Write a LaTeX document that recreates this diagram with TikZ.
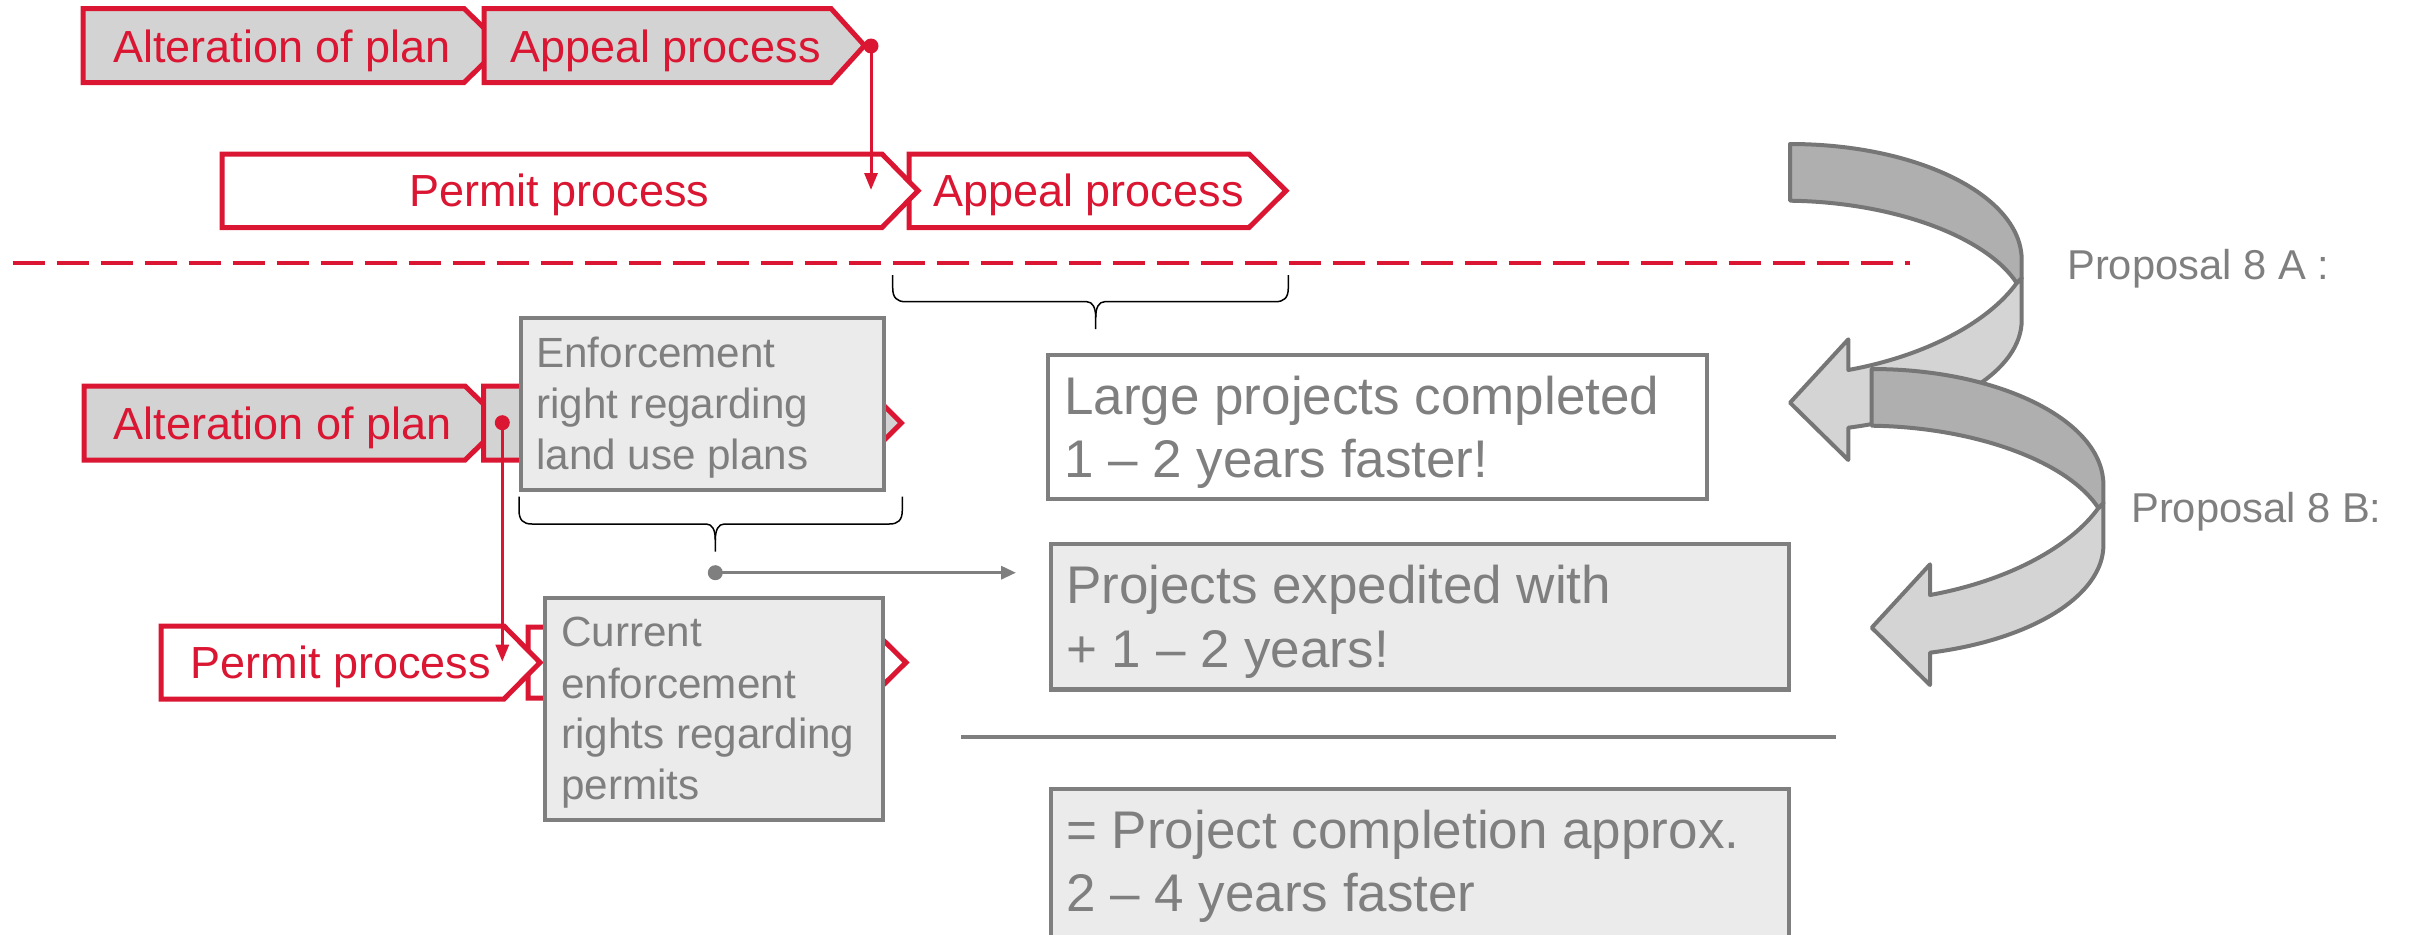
\documentclass[tikz,border=0pt]{standalone}
\usepackage{fontspec}
\setmainfont{Liberation Sans}
\usetikzlibrary{arrows.meta}
\definecolor{myred}{RGB}{218,22,50}
\definecolor{chevgray}{RGB}{211,211,211}
\definecolor{boxfill}{RGB}{235,235,235}
\definecolor{boxline}{RGB}{127,127,127}
\definecolor{gtext}{RGB}{127,127,127}
\definecolor{darkband}{RGB}{175,175,175}
\definecolor{lightband}{RGB}{212,212,212}
\definecolor{bandline}{RGB}{118,118,118}
\tikzset{
  chevline/.style={draw=myred,line width=5bp,line join=miter},
  gbox/.style={draw=boxline,line width=4.3bp,anchor=north west,inner sep=0pt,outer sep=0pt},
  rtxt/.style={text=myred,font=\fontsize{45bp}{54bp}\selectfont,anchor=base,inner sep=0pt},
  gtxt/.style={text=gtext,font=\fontsize{42.2bp}{51bp}\selectfont,anchor=base west,inner sep=0pt},
  btxt/.style={text=gtext,font=\fontsize{53bp}{63bp}\selectfont,anchor=base west,inner sep=0pt},
  ptxt/.style={text=gtext,font=\fontsize{41.7bp}{50bp}\selectfont,anchor=base west,inner sep=0pt},
  braceline/.style={draw=black,line width=1.5bp},
  redconn/.style={draw=myred,line width=3bp,-{Triangle[length=17bp,width=13bp]}},
  grayconn/.style={draw=boxline,line width=3.3bp,-{Triangle[length=15bp,width=13bp]}},
  darkpart/.style={fill=darkband,draw=bandline,line width=4bp,line join=round},
  lightpart/.style={fill=lightband,draw=bandline,line width=4bp,line join=round}
}
% fill, x0, x1, xpoint, ytop, ybottom
\newcommand\chevpath[6]{\draw[chevline,fill=#1] (#2,#5) -- (#3,#5) -- (#4,{(#5+#6)/2}) -- (#3,#6) -- (#2,#6) -- cycle;}
% L, R, top, horizontal y, tip x, tip end
\newcommand\bracepath[6]{%
  \draw[braceline] (#1,#3) -- (#1,{#4-14}) .. controls (#1,{#4-4}) and ({#1+4},#4) .. ({#1+13},#4)
     -- ({#5-9},#4) .. controls ({#5-3},#4) and (#5,{#4+6}) .. (#5,{#4+16}) -- (#5,#6);
  \draw[braceline] (#2,#3) -- (#2,{#4-14}) .. controls (#2,{#4-4}) and ({#2-4},#4) .. ({#2-13},#4)
     -- ({#5+9},#4) .. controls ({#5+3},#4) and (#5,{#4+6}) .. (#5,{#4+16});
}
\newcommand\bentarrow{%
  \draw[lightpart] (2021.7,278) -- (2021.7,320) .. controls (2021.7,370.5) and (1950.4,414.7) .. (1848.3,427.7)
     -- (1848.3,460) -- (1790,402.7) -- (1848.3,339.3) -- (1848.3,370)
     .. controls (1930,355) and (1990,320) .. (2016.7,283) -- cycle;
  \draw[darkpart] (1790,144) .. controls (1918,144) and (2021.7,195.9) .. (2021.7,260) -- (2021.7,278)
     -- (2016.7,283) .. controls (1985,235) and (1890,202) .. (1790,200.7) -- cycle;
}
\begin{document}
\begin{tikzpicture}[x=1bp,y=-1bp]
\useasboundingbox (0,0) rectangle (2412,934);
\clip (0,0) rectangle (2412,934);

% dashed separator
\draw[myred,line width=4bp,dash pattern=on 32bp off 12bp] (12.7,263) -- (1910,263);

% row 1
\chevpath{chevgray}{83}{464}{502}{8.5}{82.5}
\chevpath{chevgray}{484}{831}{864.5}{8.5}{82.5}
\node[rtxt] (alt1) at (282,62) {Alteration of plan};
\node[rtxt] (app1) at (665.5,62) {Appeal process};

% row 2
\chevpath{white}{909}{1249}{1286}{154}{227.5}
\chevpath{white}{222}{882}{918}{154}{227.5}
\node[rtxt] (per2) at (559.5,206.7) {Permit process};
\node[rtxt] (app2) at (1088.5,206.7) {Appeal process};

% red connector row 1
\coordinate (rdot1) at (871,46);
\coordinate (rtip1) at (871,190);
\draw[redconn] (rdot1) -- (rtip1);
\fill[myred] (rdot1) circle[radius=7.5bp];

% brace 1
\bracepath{892.7}{1288.3}{275}{301.7}{1095.7}{329}

% row 3
\chevpath{chevgray}{84}{465}{503}{386}{460}
\chevpath{chevgray}{483.7}{864.5}{901.3}{386}{460}
\node[rtxt] (alt3) at (282.5,439) {Alteration of plan};
\node[gbox,fill=boxfill,minimum width=362.7bp,minimum height=171.7bp] (enf) at (521,318) {};
\node[gtxt] (enf1) at (536,367) {Enforcement};
\node[gtxt] (enf2) at (536,418.3) {right regarding};
\node[gtxt] (enf3) at (536,469.5) {land use plans};

% row 4
\chevpath{white}{528}{870}{906}{627}{698}
\chevpath{white}{161}{504}{540}{626}{699}
\node[rtxt] (per3) at (341,678.6) {Permit process};
\node[gbox,fill=boxfill,minimum width=338.3bp,minimum height=222bp] (cur) at (544.7,598) {};
\node[gtxt] (cur1) at (561,646.7) {Current};
\node[gtxt] (cur2) at (561,698) {enforcement};
\node[gtxt] (cur3) at (561,748.5) {rights regarding};
\node[gtxt] (cur4) at (561,799) {permits};

% red connector row 3
\coordinate (rdot3) at (502.3,422.7);
\coordinate (rtip3) at (502.3,661.7);
\draw[redconn] (rdot3) -- (rtip3);
\fill[myred] (rdot3) circle[radius=7.5bp];

% brace 2 and gray connector
\bracepath{519}{902.3}{496.7}{524}{715.3}{551.7}
\coordinate (gdot) at (715.3,572.7);
\coordinate (gtip) at (1016,572.7);
\draw[grayconn] (gdot) -- (gtip);
\fill[boxline] (gdot) circle[radius=7.5bp];

% result boxes
\node[gbox,fill=white,minimum width=659bp,minimum height=144bp] (large) at (1048,355) {};
\node[btxt] (large1) at (1064,414) {Large projects completed};
\node[btxt] (large2) at (1064,477) {1 – 2 years faster!};
\node[gbox,fill=boxfill,minimum width=738bp,minimum height=145.5bp] (exped) at (1051,544) {};
\node[btxt] (exped1) at (1066,603) {Projects expedited with};
\node[btxt] (exped2) at (1066,667) {+ 1 – 2 years!};
\draw[boxline,line width=3.5bp] (961,737) -- (1836,737);
\node[gbox,fill=boxfill,minimum width=738bp,minimum height=200bp] (total) at (1051,788.7) {};
\node[btxt] (total1) at (1066,848.3) {= Project completion approx.};
\node[btxt] (total2) at (1066,911.7) {2 – 4 years faster};

% bent arrows
\bentarrow
\begin{scope}[shift={(81.7,225)}]
\bentarrow
\end{scope}
\node[ptxt] (propA) at (2067,279) {Proposal 8 A :};
\node[ptxt] (propB) at (2131,522) {Proposal 8 B:};
\end{tikzpicture}
\end{document}
